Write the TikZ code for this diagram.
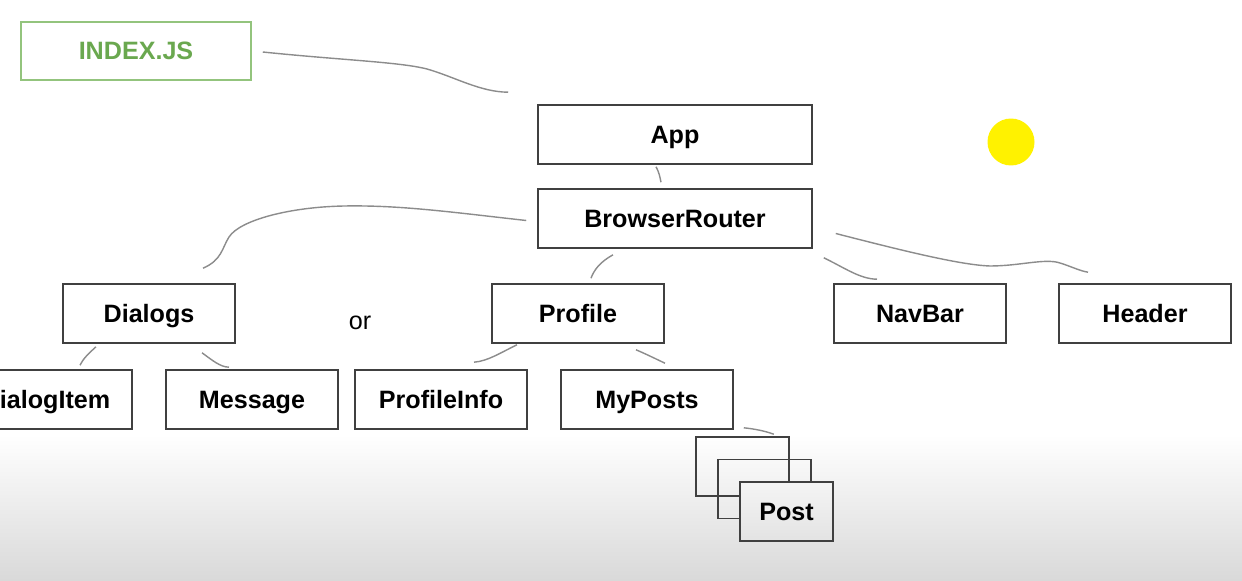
\documentclass[tikz,border=0pt]{standalone}
\usepackage{fontspec}
\setmainfont{Liberation Sans}
\usepackage{xcolor}
\usepackage{tikz}
\usetikzlibrary{positioning}

\definecolor{idxline}{HTML}{93C47D}
\definecolor{idxtext}{HTML}{6AA84F}

\begin{document}
\begin{tikzpicture}[x=0.02cm, y=-0.02cm,
    box/.style={rectangle, draw=black!75, line width=0.9pt, inner sep=0pt,
        minimum width=3.44cm, minimum height=1.18cm, text height=10.2pt, text depth=0pt,
        font=\fontsize{14.3}{17}\selectfont\bfseries},
    widebox/.style={box, minimum width=5.48cm},
    postbox/.style={box, minimum width=1.86cm},
    wire/.style={draw=black!45, line width=0.8pt}]
    \useasboundingbox (0,0) rectangle (1242,581);
    \clip (0,0) rectangle (1242,581);
    \fill[white] (0,0) rectangle (1242,581);
    \shade[top color=white, bottom color=black!15] (0,435) rectangle (1242,581);

    \node[box, minimum width=4.6cm, minimum height=1.16cm, draw=idxline, text=idxtext] (index) at (136,51) {INDEX.JS};
    \node[widebox] (app) at (675,134.5) {App};
    \node[widebox] (router) at (675,218.5) {BrowserRouter};
    \node[box] (dialogs) at (149,313.5) {Dialogs};
    \node[box] (profile) at (578,313.5) {Profile};
    \node[box] (navbar) at (920,313.5) {NavBar};
    \node[box] (header) at (1145,313.5) {Header};
    \node[font=\fontsize{14.3}{17}\selectfont, inner sep=0pt, text height=7.6pt, text depth=0pt] (or) at (360,323) {or};
    \node[box] (dialogitem) at (46,399.5) {DialogItem};
    \node[box] (message) at (252,399.5) {Message};
    \node[box] (profileinfo) at (441,399.5) {ProfileInfo};
    \node[box] (myposts) at (647,399.5) {MyPosts};
    \node[postbox] (post1) at (742.5,466.5) {};
    \node[postbox] (post2) at (764.5,489) {};
    \node[postbox, top color=black!4, bottom color=black!11] (post3) at (786.5,511.5) {Post};
    \node[circle, fill=yellow, minimum size=0.94cm] (dot) at (1011,142) {};

    \draw[wire] ([shift={(11,1)}]index.east) .. controls (340,60) and (400,62) .. (427,69)
        .. controls (455,77) and (480,92) .. ([shift={(-29,-12)}]app.north west);
    \draw[wire] ([shift={(-19,2)}]app.south) .. controls (659,172) and (660,177) .. ([shift={(-14,-6)}]router.north);
    \draw[wire] ([shift={(-11,2)}]router.west) .. controls (450,212) and (400,205) .. (344,206)
        .. controls (290,207) and (240,220) .. (229,237)
        .. controls (222,248) and (222,260) .. ([shift={(54,-15)}]dialogs.north);
    \draw[wire] ([shift={(-62,6)}]router.south) .. controls (600,262) and (594,270) .. ([shift={(13,-5)}]profile.north);
    \draw[wire] ([shift={(11,9)}]router.south east) .. controls (845,268) and (860,279) .. ([shift={(-43,-4)}]navbar.north);
    \draw[wire] ([shift={(23,15)}]router.east) .. controls (900,250) and (960,265) .. (990,266)
        .. controls (1020,266) and (1045,258) .. (1060,263)
        .. controls (1070,266) and (1080,271) .. ([shift={(-57,-11)}]header.north);
    \draw[wire] ([shift={(-53,3)}]dialogs.south) .. controls (88,354) and (83,359) .. ([shift={(34,-4)}]dialogitem.north);
    \draw[wire] ([shift={(53,9)}]dialogs.south) .. controls (212,360) and (220,367) .. ([shift={(-23,-2)}]message.north);
    \draw[wire] ([shift={(-61,1)}]profile.south) .. controls (500,353) and (488,361) .. ([shift={(33,-7)}]profileinfo.north);
    \draw[wire] ([shift={(58,6)}]profile.south) .. controls (646,354) and (656,359) .. ([shift={(18,-6)}]myposts.north);
    \draw[wire] ([shift={(10,-2)}]myposts.south east) .. controls (755,429) and (765,431) .. ([shift={(-16,-2)}]post1.north east);
\end{tikzpicture}
\end{document}
